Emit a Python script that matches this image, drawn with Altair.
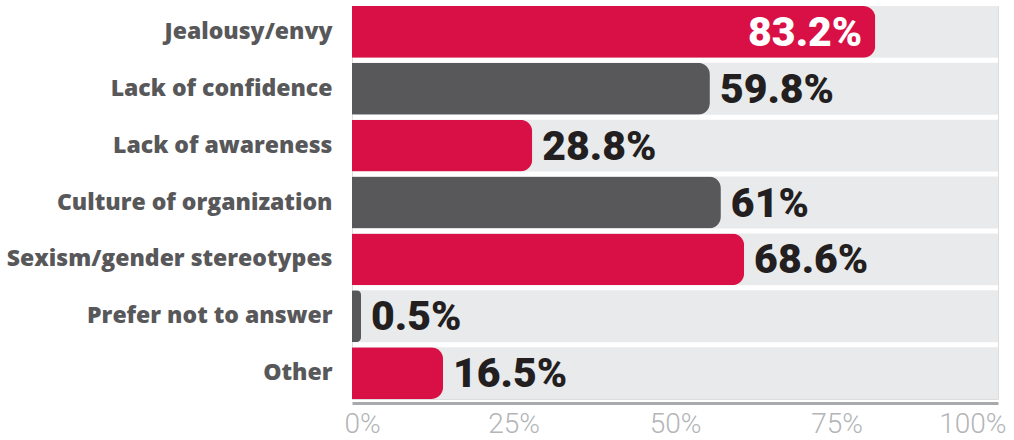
import altair as alt
import pandas as pd

categories = ["Jealousy/envy", "Lack of confidence", "Lack of awareness",
              "Culture of organization", "Sexism/gender stereotypes",
              "Prefer not to answer", "Other"]
labels = ["83.2%", "59.8%", "28.8%", "61%", "68.6%", "0.5%", "16.5%"]
# bar extents as drawn in the reference (percent of axis)
bar_lengths = [81.0, 55.4, 27.9, 57.1, 60.7, 1.4, 14.1]
bar_colors = ["#d91045", "#58585a", "#d91045", "#58585a", "#d91045", "#58585a", "#d91045"]
inside = [True, False, False, False, False, False, False]
ticks = [0, 25, 50, 75, 100]

df = pd.DataFrame({
    "cat": categories, "label": labels, "len": bar_lengths,
    "color": bar_colors, "inside": inside, "full": [100] * len(categories),
})

yenc = alt.Y("cat:N", sort=categories, title=None,
             scale=alt.Scale(paddingInner=0.088, paddingOuter=0),
             axis=alt.Axis(labelFont="Open Sans", labelFontWeight=800, labelFontSize=23,
                           labelColor="#58585a", labelPadding=20, ticks=False, domain=False,
                           labelLimit=400))
xscale = alt.Scale(domain=[0, 100], nice=False)

base = alt.Chart(df)

bg = base.mark_bar(color="#e9eaec").encode(
    x=alt.X("full:Q", scale=xscale, title=None,
            axis=alt.Axis(values=ticks, labelExpr="datum.value + '%'", grid=False, ticks=False,
                          domainColor="#a7a9ac", domainWidth=3, offset=4,
                          labelFont="Roboto", labelFontWeight=300, labelFontSize=28,
                          labelColor="#b3b5b8", labelPadding=7, labelFlush=True,
                          labelFlushOffset=8)),
    y=yenc,
)

bars = base.mark_bar(cornerRadiusTopRight=12, cornerRadiusBottomRight=12).encode(
    x=alt.X("len:Q", scale=xscale),
    y=alt.Y("cat:N", sort=categories),
    color=alt.Color("color:N", scale=None),
)

txt_out = base.transform_filter("!datum.inside").mark_text(
    align="left", baseline="middle", dx=10, dy=2, font="Roboto", fontWeight=900,
    fontSize=41, color="#231f20").encode(
    x=alt.X("len:Q", scale=xscale),
    y=alt.Y("cat:N", sort=categories),
    text="label:N",
)

txt_in = base.transform_filter("datum.inside").mark_text(
    align="right", baseline="middle", dx=-13, dy=2, font="Roboto", fontWeight=900,
    fontSize=41, color="white").encode(
    x=alt.X("len:Q", scale=xscale),
    y=alt.Y("cat:N", sort=categories),
    text="label:N",
)

chart = alt.layer(bg, bars, txt_out, txt_in).properties(
    width=646, height=393,
    autosize=alt.AutoSizeParams(type="none"),
    padding={"left": 352, "top": 6, "right": 16, "bottom": 41},
).configure_view(stroke=None).configure(background="white")

chart.save("out.html", embed_options={"renderer": "svg", "actions": False})
